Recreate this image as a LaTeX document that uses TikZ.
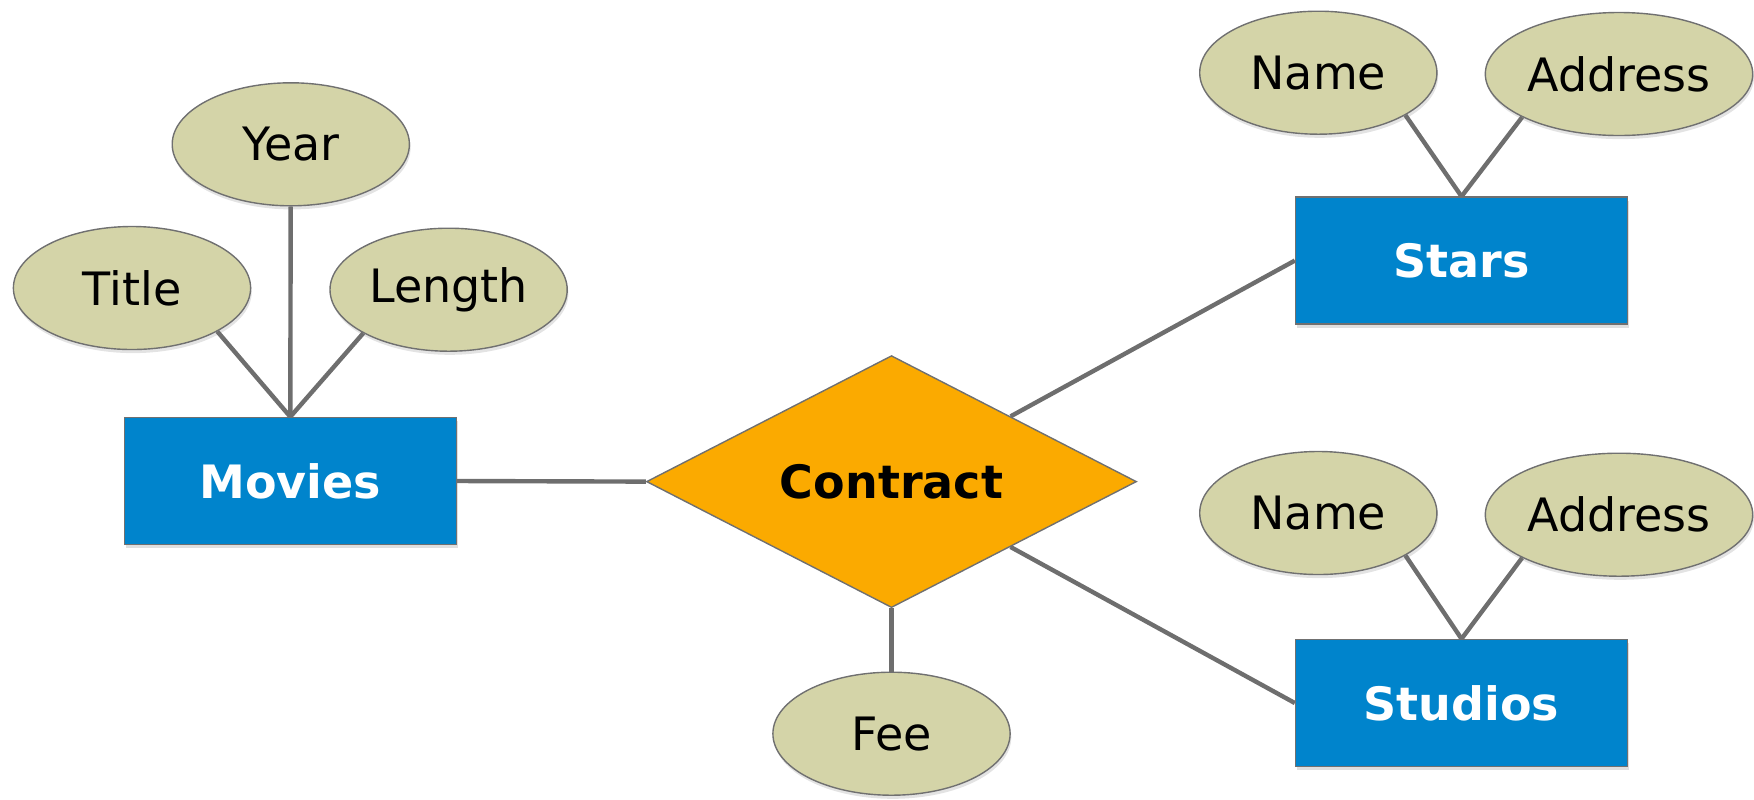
\documentclass[tikz,border=0pt]{standalone}
\usepackage{fontspec}
\setmainfont{DejaVu Sans}
\usetikzlibrary{shapes.geometric,shadows}
\definecolor{attrfill}{HTML}{D4D4A8}
\definecolor{entfill}{HTML}{0084CC}
\definecolor{relfill}{HTML}{FBAA00}
\definecolor{edgegray}{HTML}{6E6E6E}
\definecolor{outl}{HTML}{707070}
\begin{document}
\begin{tikzpicture}[x=0.5pt,y=-0.5pt,
  attr/.style={ellipse,draw=outl,line width=0.7pt,fill=attrfill,inner sep=0pt,
    minimum width=118.6pt,minimum height=61.5pt,font=\fontsize{23}{27}\selectfont,
    drop shadow={shadow xshift=0.6pt,shadow yshift=-1.8pt,opacity=0.22}},
  entity/.style={rectangle,draw=outl,line width=0.7pt,fill=entfill,inner sep=0pt,
    minimum width=166pt,minimum height=63.5pt,text=white,
    font=\fontsize{23}{27}\selectfont\bfseries,
    drop shadow={shadow xshift=0.6pt,shadow yshift=-1.8pt,opacity=0.25}},
  rel/.style={diamond,draw=outl,line width=0.7pt,fill=relfill,inner sep=0pt,
    shape aspect=1.94,minimum width=245pt,minimum height=126pt,
    font=\fontsize{23}{27}\selectfont\bfseries},
  conn/.style={draw=edgegray,line width=2.2pt}]
\useasboundingbox (0,0) rectangle (1754,799);
% nodes
\node[entity] (movies) at (290.3,481) {Movies};
\node[rel] (contract) at (891.5,481.6) {Contract};
\node[entity] (stars) at (1461.5,260.6) {Stars};
\node[entity] (studios) at (1461.5,703) {Studios};
\node[attr] (year) at (290.8,144.3) {Year};
\node[attr] (title) at (132,288) {Title};
\node[attr] (length) at (448.6,289.7) {Length};
\node[attr] (fee) at (891.5,733.7) {Fee};
\node[attr] (sname) at (1318.3,72.7) {Name};
\node[attr,minimum width=133.7pt] (saddr) at (1619,74) {Address};
\node[attr] (stname) at (1318.3,513) {Name};
\node[attr,minimum width=133.7pt] (staddr) at (1619,514.7) {Address};
% connectors
\draw[conn] (year) -- (movies.north);
\draw[conn] (title.-27.6) -- (movies.north);
\draw[conn] (length.207.5) -- (movies.north);
\draw[conn] (movies.east) -- (contract.west);
\draw[conn] (contract) -- (stars.west);
\draw[conn] (contract) -- (studios.west);
\draw[conn] (contract.south) -- (fee.north);
\draw[conn] (sname.-26.1) -- (stars.north);
\draw[conn] (saddr.204.2) -- (stars.north);
\draw[conn] (stname.-26.9) -- (studios.north);
\draw[conn] (staddr.204.8) -- (studios.north);
\end{tikzpicture}
\end{document}
